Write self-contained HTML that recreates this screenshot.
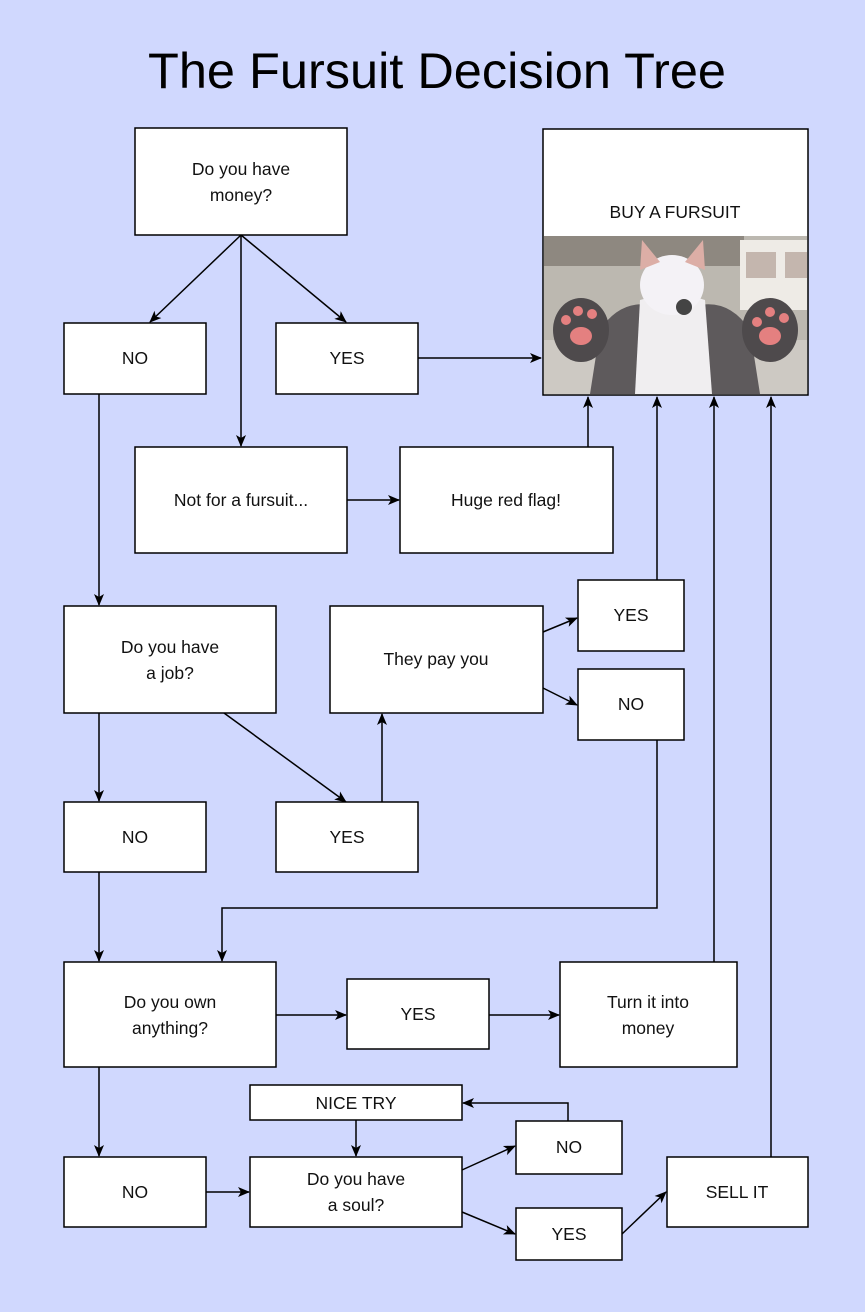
<!DOCTYPE html>
<html><head><meta charset="utf-8"><style>
html,body{margin:0;padding:0;background:#d0d8fe;}
svg{display:block}
text{font-family:"Liberation Sans",Arial,sans-serif;font-size:17.5px;fill:#111;text-anchor:middle}
</style></head><body>
<svg width="865" height="1312" viewBox="0 0 865 1312" xmlns="http://www.w3.org/2000/svg">
<defs><marker id="a" markerWidth="12" markerHeight="12" refX="11" refY="6" orient="auto" markerUnits="userSpaceOnUse"><path d="M0,1 L12,6 L0,11 L3,6 Z" fill="#000"/></marker></defs>
<rect width="865" height="1312" fill="#d0d8fe"/>
<text x="437" y="88" style="font-size:50px;fill:#000" textLength="578" lengthAdjust="spacingAndGlyphs">The Fursuit Decision Tree</text>
<g fill="#fff" stroke="#000" stroke-width="1.5">
<rect x="135" y="128" width="212" height="107"/>
<rect x="543" y="129" width="265" height="266"/>
<rect x="64" y="323" width="142" height="71"/>
<rect x="276" y="323" width="142" height="71"/>
<rect x="135" y="447" width="212" height="106"/>
<rect x="400" y="447" width="213" height="106"/>
<rect x="64" y="606" width="212" height="107"/>
<rect x="330" y="606" width="213" height="107"/>
<rect x="578" y="580" width="106" height="71"/>
<rect x="578" y="669" width="106" height="71"/>
<rect x="64" y="802" width="142" height="70"/>
<rect x="276" y="802" width="142" height="70"/>
<rect x="64" y="962" width="212" height="105"/>
<rect x="347" y="979" width="142" height="70"/>
<rect x="560" y="962" width="177" height="105"/>
<rect x="250" y="1085" width="212" height="35"/>
<rect x="64" y="1157" width="142" height="70"/>
<rect x="250" y="1157" width="212" height="70"/>
<rect x="516" y="1121" width="106" height="53"/>
<rect x="516" y="1208" width="106" height="52"/>
<rect x="667" y="1157" width="141" height="70"/>
</g>
<g>
<rect x="544" y="236" width="263" height="158" fill="#bcb8b0"/>
<rect x="544" y="236" width="200" height="30" fill="#8e8880"/>
<rect x="740" y="240" width="67" height="70" fill="#eeebe6"/>
<rect x="746" y="252" width="30" height="26" fill="#c4b6ae"/>
<rect x="785" y="252" width="22" height="26" fill="#c4b6ae"/>
<rect x="544" y="340" width="263" height="54" fill="#cdc9c3"/>
<path d="M600,330 Q620,300 650,305 L700,305 Q730,300 750,330 L760,394 L590,394 Z" fill="#5e5a5c"/>
<path d="M640,300 Q675,290 705,300 L712,394 L635,394 Z" fill="#f0eef0"/>
<ellipse cx="672" cy="285" rx="32" ry="30" fill="#f4f2f6"/>
<path d="M640,270 L642,240 L660,262 Z M705,270 L703,240 L685,262 Z" fill="#dcaea6"/>
<circle cx="684" cy="307" r="8" fill="#444"/>
<ellipse cx="581" cy="330" rx="28" ry="32" fill="#4e4a4c"/>
<ellipse cx="770" cy="330" rx="28" ry="32" fill="#4e4a4c"/>
<ellipse cx="581" cy="336" rx="11" ry="9" fill="#e48080"/>
<ellipse cx="770" cy="336" rx="11" ry="9" fill="#e48080"/>
<circle cx="566" cy="320" r="5" fill="#e48080"/><circle cx="578" cy="311" r="5" fill="#e48080"/><circle cx="592" cy="314" r="5" fill="#e48080"/>
<circle cx="757" cy="322" r="5" fill="#e48080"/><circle cx="770" cy="312" r="5" fill="#e48080"/><circle cx="784" cy="318" r="5" fill="#e48080"/>
</g>
<g stroke="#000" stroke-width="1.5" fill="none" marker-end="url(#a)">
<path d="M241,235 L150,322"/>
<path d="M241,235 L241,446"/>
<path d="M241,235 L346,322"/>
<path d="M418,358 L541,358"/>
<path d="M347,500 L399,500"/>
<path d="M588,447 L588,397"/>
<path d="M99,394 L99,605"/>
<path d="M657,580 L657,397"/>
<path d="M714,962 L714,397"/>
<path d="M771,1157 L771,397"/>
<path d="M543,632 L577,618"/>
<path d="M543,688 L577,705"/>
<path d="M99,713 L99,801"/>
<path d="M224,713 L346,802"/>
<path d="M382,802 L382,714"/>
<path d="M99,872 L99,961"/>
<path d="M657,740 L657,908 L222,908 L222,961"/>
<path d="M276,1015 L346,1015"/>
<path d="M489,1015 L559,1015"/>
<path d="M99,1067 L99,1156"/>
<path d="M206,1192 L249,1192"/>
<path d="M356,1120 L356,1156"/>
<path d="M568,1121 L568,1103 L463,1103"/>
<path d="M462,1170 L515,1146"/>
<path d="M462,1212 L515,1234"/>
<path d="M622,1234 L666,1192"/>
</g>
<text x="241" y="175">Do you have</text><text x="241" y="201">money?</text>
<text x="675" y="218">BUY A FURSUIT</text>
<text x="135" y="364">NO</text>
<text x="347" y="364">YES</text>
<text x="241" y="506">Not for a fursuit...</text>
<text x="506" y="506">Huge red flag!</text>
<text x="170" y="653">Do you have</text><text x="170" y="679">a job?</text>
<text x="436" y="665">They pay you</text>
<text x="631" y="621">YES</text>
<text x="631" y="710">NO</text>
<text x="135" y="843">NO</text>
<text x="347" y="843">YES</text>
<text x="170" y="1008">Do you own</text><text x="170" y="1034">anything?</text>
<text x="418" y="1020">YES</text>
<text x="648" y="1008">Turn it into</text><text x="648" y="1034">money</text>
<text x="356" y="1109">NICE TRY</text>
<text x="135" y="1198">NO</text>
<text x="356" y="1185">Do you have</text><text x="356" y="1211">a soul?</text>
<text x="569" y="1153">NO</text>
<text x="569" y="1240">YES</text>
<text x="737" y="1198">SELL IT</text>
</svg>
</body></html>
